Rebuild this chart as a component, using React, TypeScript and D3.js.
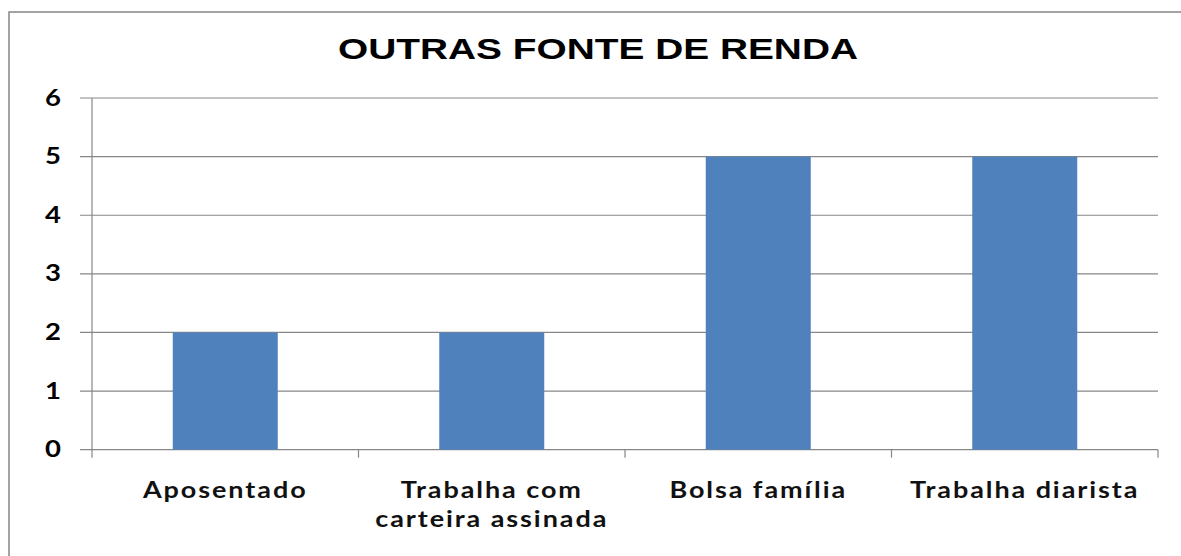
import React from "react";
import * as d3 from "d3";

const title = "OUTRAS FONTE DE RENDA";
const categories: string[][] = [
  ["Aposentado"],
  ["Trabalha com", "carteira assinada"],
  ["Bolsa família"],
  ["Trabalha diarista"],
];
const values = [2, 2, 5, 5];
const yTicks = [0, 1, 2, 3, 4, 5, 6];

const W = 1181;
const H = 556;
const plot = { left: 92, right: 1158, top: 98, bottom: 449.7 };

export default function App() {
  const x = d3
    .scaleBand<number>()
    .domain(d3.range(categories.length))
    .range([plot.left, plot.right])
    .paddingInner(0.606)
    .paddingOuter(0.303);
  const xOuter = d3
    .scaleBand<number>()
    .domain(d3.range(categories.length))
    .range([plot.left, plot.right]);
  const y = d3.scaleLinear().domain([0, 6]).range([plot.bottom, plot.top]);
  const gray = "#878787";
  const labelFont = "Lato, 'Open Sans', sans-serif";
  const sxCat = 1.2;
  const sxY = 1.25;

  return (
    <svg
      width={W}
      height={H}
      style={{ position: "absolute", left: 0, top: 0, background: "#fff" }}
    >
      <rect x={0} y={0} width={W} height={H} fill="#fff" />
      <rect x={9} y={12} width={1300} height={700} fill="none" stroke={gray} strokeWidth={1.5} />
      <text
        x={338}
        y={58.5}
        textLength={520}
        lengthAdjust="spacingAndGlyphs"
        fontFamily="'Liberation Sans', Arial, sans-serif"
        fontWeight="bold"
        fontSize={29.5}
        fill="#000"
      >
        {title}
      </text>
      {yTicks.map((t) => (
        <g key={t}>
          <line
            x1={80}
            x2={plot.right}
            y1={y(t)}
            y2={y(t)}
            stroke={gray}
            strokeWidth={1.2}
          />
          <text
            transform={`translate(61,${y(t) + 7.5}) scale(${sxY},1)`}
            textAnchor="end"
            fontFamily={labelFont}
            fontWeight="bold"
            fontSize={22}
            fill="#000"
          >
            {t}
          </text>
        </g>
      ))}
      <line x1={plot.left} x2={plot.left} y1={plot.top} y2={plot.bottom} stroke={gray} strokeWidth={1.2} />
      {values.map((v, i) => (
        <rect
          key={i}
          x={x(i)!}
          y={y(v)}
          width={x.bandwidth()}
          height={y(0) - y(v)}
          fill="#4F81BD"
        />
      ))}
      {d3.range(categories.length + 1).map((i) => {
        const xp = i < categories.length ? xOuter(i)! : plot.right;
        return (
          <line key={i} x1={xp} x2={xp} y1={plot.bottom} y2={plot.bottom + 8} stroke={gray} strokeWidth={1.2} />
        );
      })}
      {categories.map((lines, i) => (
        <text
          key={i}
          transform={`translate(${xOuter(i)! + xOuter.bandwidth() / 2},498) scale(${sxCat},1)`}
          textAnchor="middle"
          fontFamily={labelFont}
          fontWeight="bold"
          fontSize={22.5}
          letterSpacing={1.6}
          fill="#111"
        >
          {lines.map((l, j) => (
            <tspan key={j} x={0} dy={j === 0 ? 0 : 29}>
              {l}
            </tspan>
          ))}
        </text>
      ))}
    </svg>
  );
}
